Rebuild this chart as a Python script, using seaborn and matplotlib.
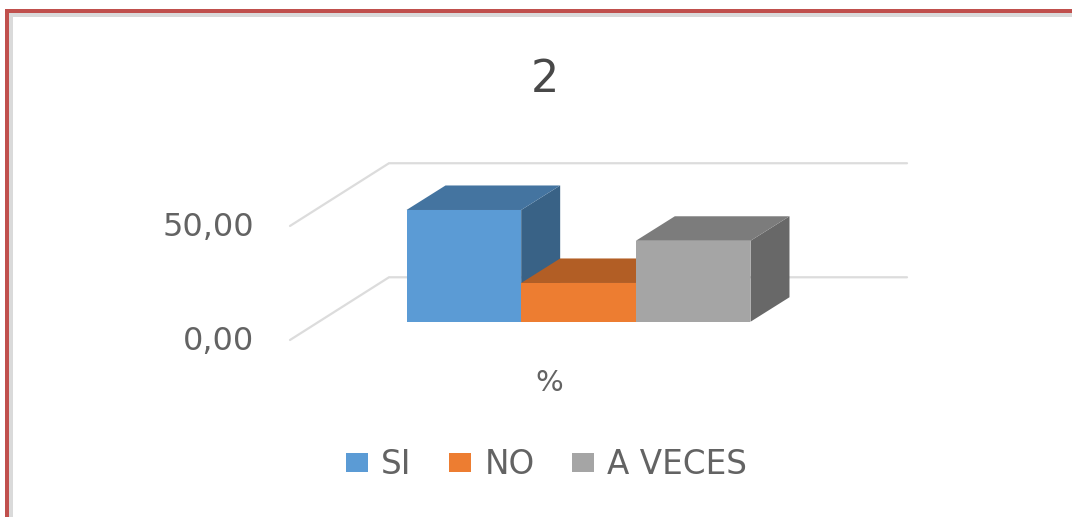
import matplotlib
matplotlib.use("Agg")
import matplotlib.pyplot as plt
from matplotlib.lines import Line2D
from matplotlib.patches import Polygon
from matplotlib.transforms import ScaledTranslation
import pandas as pd
import seaborn as sns

# ---- data
series = ["SI", "NO", "A VECES"]
values = [49.0, 17.0, 35.5]
category = ["%"] * 3
colors = ["#5B9BD5", "#ED7D31", "#A5A5A5"]
y_ticks = [0, 50]
y_tick_labels = ["0,00", "50,00"]
title = "2"

W, H, DPI = 1072, 517, 100
TXT = "#636363"
sns.set_theme(style="white")
plt.rcParams["font.family"] = ["DejaVu Sans"]

fig = plt.figure(figsize=(W / DPI, H / DPI), dpi=DPI, facecolor="white")
ax = fig.add_axes([290 / W, 1 - 340 / H, (907 - 290) / W, (340 - 163) / H])
ax.patch.set_alpha(0)

df = pd.DataFrame({"eje": category, "valor": values, "serie": series})
sns.barplot(data=df, x="eje", y="valor", hue="serie", hue_order=series,
            palette=colors, saturation=1, width=0.8, gap=0, errorbar=None,
            linewidth=0, ax=ax, zorder=3)

X0, X1 = -0.671, 0.764
Y0, Y1 = -8.0, 69.6
ax.set_xlim(X0, X1)
ax.set_ylim(Y0, Y1)
ax.set_xlabel("")
ax.set_ylabel("")
sns.despine(ax=ax, left=True, bottom=True)

# pseudo-3D depth of the plot, as axis-unit offsets
DX, DY = 39 / 430, 24.5 / 2.28          # bar depth
WALL_DX, WALL_DY = 99 / 430, 27.5       # floor depth

# walls: one polyline per y tick
for v in y_ticks:
    ax.plot([X0, X0 + WALL_DX, X1], [v + Y0, v + Y0 + WALL_DY, v + Y0 + WALL_DY],
            color="#DCDCDC", lw=1.6, zorder=1, clip_on=False, solid_joinstyle="miter")


def shade(hex_color, k):
    r, g, b = matplotlib.colors.to_rgb(hex_color)
    return (r * k, g * k, b * k)


# top and side faces built from each bar's own geometry
for i, (cont, col) in enumerate(zip(ax.containers, colors)):
    for bar in cont:
        x, w, h = bar.get_x(), bar.get_width(), bar.get_height()
        z = 3 + i * 2
        ax.add_patch(Polygon([(x + w, 0), (x + w + DX, DY), (x + w + DX, h + DY), (x + w, h)],
                             closed=True, fc=shade(col, 0.63), ec="none", zorder=z))
        ax.add_patch(Polygon([(x, h), (x + DX, h + DY), (x + w + DX, h + DY), (x + w, h)],
                             closed=True, fc=shade(col, 0.75), ec="none", zorder=z))
        bar.set_zorder(z + 1)

# axes text
ax.set_yticks(y_ticks, y_tick_labels)
ax.tick_params(axis="y", length=0, pad=26, labelsize=23, labelcolor=TXT)
ax.tick_params(axis="x", length=0, pad=21, labelsize=21, labelcolor=TXT)
shift_y = ScaledTranslation(0, -16 / DPI, fig.dpi_scale_trans)
for lab in ax.get_yticklabels():
    lab.set_transform(lab.get_transform() + shift_y)
shift_x = ScaledTranslation(-29.5 / DPI, 0, fig.dpi_scale_trans)
for lab in ax.get_xticklabels():
    lab.set_transform(lab.get_transform() + shift_x)

fig.text(545 / W, 1 - 80 / H, title, ha="center", va="center", fontsize=32, color="#484848")

handles, labels = ax.get_legend_handles_labels()
ax.legend(handles, labels, loc="center", bbox_to_anchor=(546.5 / W, 1 - 464.5 / H),
          bbox_transform=fig.transFigure, ncol=3, frameon=False, fontsize=23.5, labelcolor=TXT,
          handlelength=0.68, handleheight=0.56, handletextpad=0.4, columnspacing=1.15,
          borderpad=0, borderaxespad=0)

# chart border with its soft shadow
def border(x, y, color, lw):
    fig.add_artist(Line2D([x / W, x / W, 1], [0, 1 - y / H, 1 - y / H], color=color,
                          lw=lw * 72 / DPI, solid_joinstyle="miter", solid_capstyle="butt"))

border(11, 14.5, "#DADADA", 4)
border(7, 11, "#C0504D", 4)

fig.savefig("out.png", dpi=DPI, facecolor="white")
